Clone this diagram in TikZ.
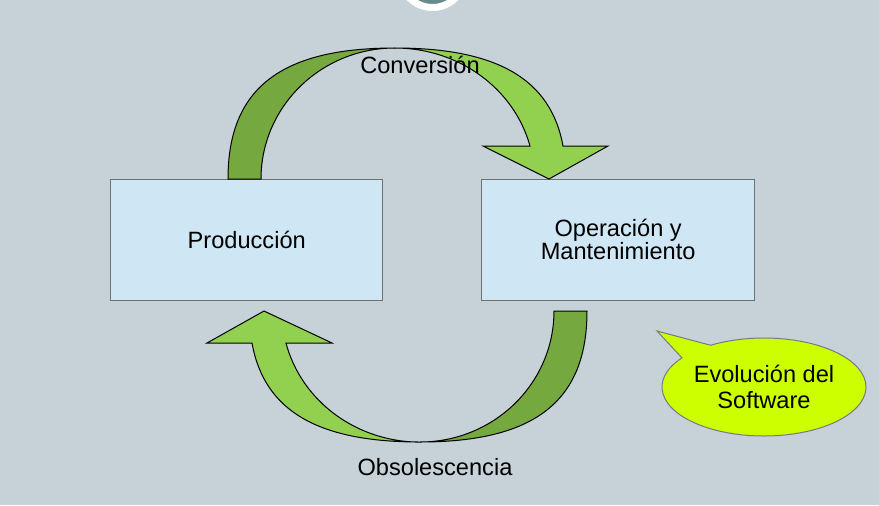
\documentclass[tikz,border=0pt]{standalone}
\usepackage{fontspec}
\setmainfont{Liberation Sans}
\usetikzlibrary{positioning,shapes.callouts}
\definecolor{bgslate}{RGB}{198,209,216}
\definecolor{boxblue}{RGB}{207,230,244}
\definecolor{boxgray}{RGB}{112,112,112}
\definecolor{greendark}{RGB}{118,168,64}
\definecolor{greenlight}{RGB}{146,208,80}
\definecolor{bubblelime}{RGB}{204,255,0}
\definecolor{bubbleline}{RGB}{120,120,136}
\definecolor{logoteal}{RGB}{104,140,140}

\begin{document}
\begin{tikzpicture}[x=0.5pt,y=-0.5pt,font=\fontsize{11.8}{11.65}\selectfont,
  box/.style={draw=boxgray,fill=boxblue,line width=0.5pt,minimum width=136.2pt,minimum height=60.25pt,inner sep=0pt,align=center},
  ribbon/.style={draw=black,line width=0.5pt}]
\fill[bgslate] (0,0) rectangle (879,505);
\useasboundingbox (0,0) rectangle (879,505);
\node[circle,draw=white,line width=3.5pt,fill=logoteal,minimum size=32.3pt,inner sep=0pt] (logo) at (432.5,-24.8) {};
\node[box] (prod) at (246.75,239.75) {Producción};
\node[box,right=49pt of prod] (oper) {Operación y\\Mantenimiento};
% Conversion arrow
\draw[ribbon,fill=greendark] (228,179) .. controls (228,88.9) and (280.1,48) .. (395,48)
  arc[start angle=270,end angle=180,x radius=134,y radius=131] -- cycle;
\draw[ribbon,fill=greenlight] (395,48) .. controls (497,48) and (550.8,79) .. (563,146)
  -- (608,146) -- (549,179) -- (483,146) -- (530,146)
  arc[start angle=345.4,end angle=270,x radius=139.5,y radius=131] -- cycle;
% Obsolescence arrow
\draw[ribbon,fill=greendark] (587,311) .. controls (587,401.1) and (534.9,442) .. (420,442)
  arc[start angle=90,end angle=0,x radius=134,y radius=131] -- cycle;
\draw[ribbon,fill=greenlight] (420,442) .. controls (318,442) and (264.2,411) .. (252,343)
  -- (207,343) -- (264,311) -- (332,343) -- (286,343)
  arc[start angle=165.9,end angle=90,x radius=138.2,y radius=131] -- cycle;
\node[inner sep=0pt] (conv) at (420,65) {Conversión};
\node[inner sep=0pt] (obso) at (435,467) {Obsolescencia};
\node[ellipse callout,draw=bubbleline,fill=bubblelime,line width=0.5pt,minimum width=102pt,minimum height=49pt,inner sep=0pt,
  callout absolute pointer={(657,331)},callout pointer arc=22,align=center,font=\fontsize{11.8}{13}\selectfont] (evol) at (764,387) {Evolución del\\Software};
\end{tikzpicture}
\end{document}
